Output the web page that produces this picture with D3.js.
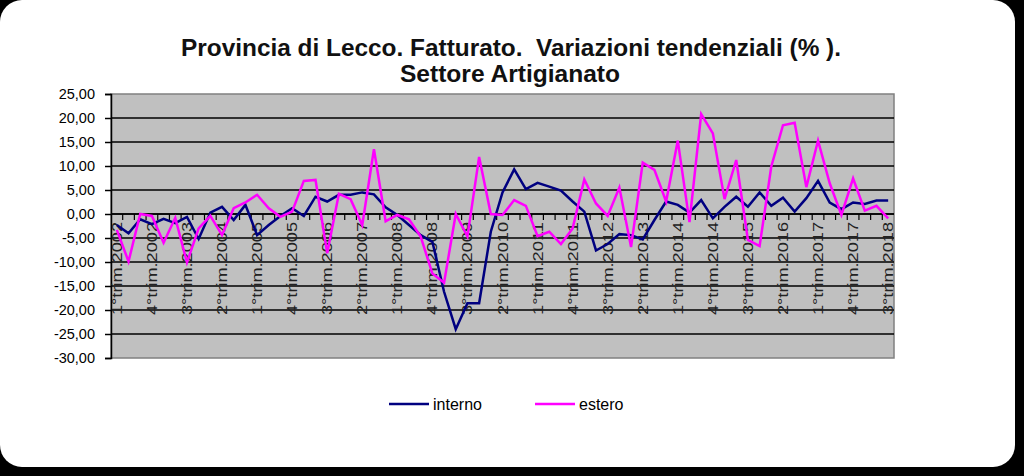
<!DOCTYPE html>
<html>
<head>
<meta charset="utf-8">
<script src="https://cdn.jsdelivr.net/npm/d3@7"></script>
<style>
  html, body { margin: 0; padding: 0; background: #000; }
  svg { display: block; font-family: "Liberation Sans", Arial, sans-serif; }
</style>
</head>
<body>
<div id="chart"></div>
<script>
// quarters 1°trim.2002 .. 3°trim.2018
const years = d3.range(2002, 2019)
const quarters = years.flatMap(y => [1, 2, 3, 4].map(q => `${q}°trim.${y}`)).slice(0, 67)

const interno = [
  -2.3, -4.0, -1.1, -2.1, -1.0, -1.9, -0.6, -5.2, 0.3, 1.5,
  -1.25, 1.9, -4.4, -2.3, -0.4, 1.2, -0.4, 3.6, 2.6, 4.0,
  4.0, 4.5, 4.1, 1.4, -0.2, -2.3, -4.4, -5.8, -16.2, -24.0,
  -18.6, -18.6, -3.7, 4.5, 9.3, 5.2, 6.5, 5.7, 4.9, 2.6,
  0.5, -7.6, -6.25, -4.2, -4.4, -5.3, -1.25, 2.6, 1.9, 0.3,
  2.9, -0.9, 1.5, 3.6, 1.5, 4.5, 1.7, 3.4, 0.5, 3.3,
  6.9, 2.4, 1.0, 2.4, 2.1, 2.8, 2.8
]
const estero = [
  -3.3, -9.9, 0.0, -0.4, -6.0, -0.8, -10.1, -3.0, -0.4, -4.4,
  1.2, 2.4, 4.0, 1.2, -0.6, 0.5, 6.9, 7.1, -8.2, 4.2,
  3.1, -2.3, 13.5, -1.5, -0.2, -1.1, -4.7, -12.4, -14.3, 0.0,
  -4.7, 11.9, 0.0, -0.2, 2.9, 1.7, -4.6, -3.7, -6.25, -3.0,
  7.2, 2.2, -0.4, 5.5, -6.9, 10.7, 9.2, 2.6, 15.3, -1.7,
  20.8, 16.8, 3.1, 11.25, -5.4, -6.7, 9.9, 18.5, 19.0, 5.6,
  15.3, 6.4, -0.2, 7.4, 0.7, 1.7, -0.9
]
const yTicks = d3.range(-30, 26, 5)
const series = [
  { name: 'interno', values: interno, color: '#000080' },
  { name: 'estero', values: estero, color: '#ff00ff' }
]

const W = 1024, H = 476
const plot = { left: 111, right: 894, top: 94, bottom: 358 }

const svg = d3.select('#chart').append('svg')
  .attr('width', W).attr('height', H)

// black backdrop + white rounded card
svg.append('rect').attr('width', W).attr('height', H).attr('fill', '#000')
svg.append('rect')
  .attr('x', 0).attr('y', 0)
  .attr('width', 1015).attr('height', 467)
  .attr('rx', 22).attr('ry', 22)
  .attr('fill', '#fff')

// title (condensed look -> textLength squeeze)
const title = svg.append('g').attr('font-weight', 'bold').attr('fill', '#111').attr('text-anchor', 'middle')
title.append('text').attr('x', 511).attr('y', 56).attr('font-size', 23)
  .attr('textLength', 660).attr('lengthAdjust', 'spacingAndGlyphs')
  .text('Provincia di Lecco. Fatturato.\u00a0\u00a0Variazioni tendenziali (% ).')
title.append('text').attr('x', 510).attr('y', 82).attr('font-size', 23)
  .attr('textLength', 220).attr('lengthAdjust', 'spacingAndGlyphs')
  .text('Settore Artigianato')

const x = d3.scaleBand().domain(quarters).range([plot.left, plot.right])
const y = d3.scaleLinear().domain([-30, 25]).range([plot.bottom, plot.top])
const cx = d => x(d) + x.bandwidth() / 2

// plot background
svg.append('rect')
  .attr('x', plot.left).attr('y', plot.top)
  .attr('width', plot.right - plot.left).attr('height', plot.bottom - plot.top)
  .attr('fill', '#c0c0c0')
  .attr('stroke', '#808080').attr('stroke-width', 1.5)

// gridlines (inner ones black)
svg.append('g').selectAll('line')
  .data(yTicks.filter(t => t > -30 && t < 25))
  .join('line')
  .attr('x1', plot.left).attr('x2', plot.right)
  .attr('y1', d => y(d)).attr('y2', d => y(d))
  .attr('stroke', '#000').attr('stroke-width', 1.5)

// y axis
const yAxis = svg.append('g')
  .attr('transform', `translate(${plot.left},0)`)
  .call(d3.axisLeft(y).tickValues(yTicks).tickSize(6).tickPadding(10)
    .tickFormat(d => d3.format('.2f')(d).replace('.', ',').replace('−', '-')))
yAxis.select('.domain').attr('stroke', '#000').attr('stroke-width', 1.5)
yAxis.selectAll('.tick line').attr('stroke', '#000').attr('stroke-width', 1.5)
yAxis.selectAll('text').attr('font-size', 14.5).attr('fill', '#000')
  .attr('font-family', '"Liberation Sans", Arial, sans-serif')

// category axis on the zero line
const xg = svg.append('g').attr('transform', `translate(0,${y(0)})`)
xg.append('line').attr('x1', plot.left).attr('x2', plot.right)
  .attr('stroke', '#000').attr('stroke-width', 1.5)
xg.selectAll('line.tk')
  .data(quarters.slice(1))
  .join('line').attr('class', 'tk')
  .attr('x1', d => x(d)).attr('x2', d => x(d))
  .attr('y1', 0).attr('y2', 6)
  .attr('stroke', '#000').attr('stroke-width', 1.2)
xg.selectAll('text')
  .data(quarters.filter((d, i) => i % 3 === 0))
  .join('text')
  .attr('transform', d => `translate(${cx(d) + 5},8) rotate(-90)`)
  .attr('text-anchor', 'end')
  .attr('font-size', 14.5)
  .attr('fill', '#222')
  .attr('textLength', 93).attr('lengthAdjust', 'spacingAndGlyphs')
  .text(d => d)

// lines
const line = d3.line().x((d, i) => cx(quarters[i])).y(d => y(d))
svg.append('g').selectAll('path')
  .data(series)
  .join('path')
  .attr('d', s => line(s.values))
  .attr('fill', 'none')
  .attr('stroke', s => s.color)
  .attr('stroke-width', 2.5)
  .attr('stroke-linejoin', 'miter')

// legend
const legend = svg.append('g')
const legendPos = [{ x: 389, tx: 433 }, { x: 535, tx: 579 }]
series.forEach((s, i) => {
  const p = legendPos[i]
  legend.append('line')
    .attr('x1', p.x).attr('x2', p.x + 40)
    .attr('y1', 404).attr('y2', 404)
    .attr('stroke', s.color).attr('stroke-width', 2.5)
  legend.append('text')
    .attr('x', p.tx).attr('y', 410)
    .attr('font-size', 16).attr('fill', '#000')
    .text(s.name)
})
</script>
</body>
</html>
